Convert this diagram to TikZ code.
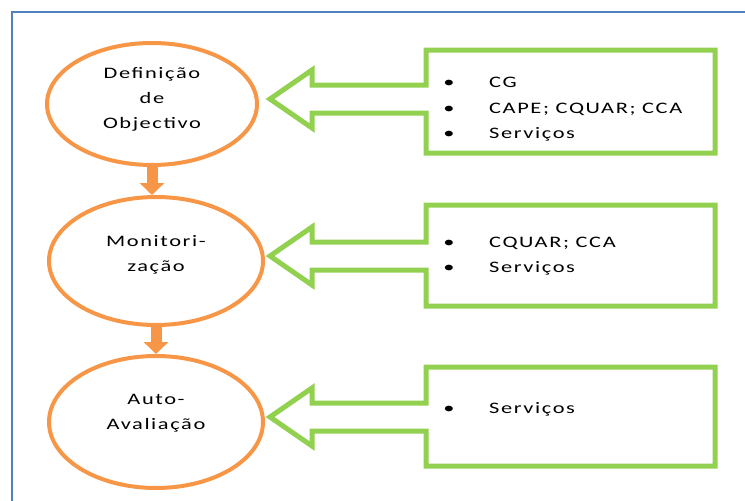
\documentclass[tikz,border=0pt]{standalone}
\usepackage{fontspec}
\setmainfont{Carlito}[FakeStretch=1.4,LetterSpace=10]
\usetikzlibrary{shapes.geometric,arrows.meta}
\definecolor{cam}{HTML}{F79646}
\definecolor{xanh}{HTML}{92D050}
\definecolor{khung}{HTML}{4F81BD}
\begin{document}
\begin{tikzpicture}[x=1pt,y=-1pt,line join=miter,font=\fontsize{16}{25}\selectfont,
	vong/.style={draw=cam,line width=4pt,ellipse,align=center,inner sep=0pt},
	hop/.style={draw=xanh,line width=5pt},
	muiten/.style={draw=cam,line width=11pt,-{Triangle[width=24pt,length=12pt]}},
	dong/.style={anchor=base west,inner sep=0pt}]
	\useasboundingbox (0,0) rectangle (745,501);
	% khung
	\draw[khung,line width=2pt] (12,501)--(12,12)--(745,12);
	% cac vong
	\node[vong,minimum width=210pt,minimum height=122pt,text depth=12pt] (def) at (152,104) {Definição\\de\\Objectivo};
	\node[vong,minimum width=214pt,minimum height=128pt,text depth=16pt] (mon) at (156,261) {Monitori-\\zação};
	\node[vong,minimum width=214pt,minimum height=132pt,text depth=21pt] (auto) at (156,422) {Auto-\\Avaliação};
	\draw[muiten] (def.south)--(def.south |- mon.north);
	\draw[muiten] (mon.south)--(mon.south |- auto.north);
	% cac hop
	\foreach \tren/\duoi/\giua in {50/153/99,205/306/256,367/466/417}
	\draw[hop] (426,\tren)--(715,\tren)--(715,\duoi)--(426,\duoi)--(426,\giua+14)
		--(312,\giua+14)--(312,\giua+29)--(270,\giua)--(312,\giua-29)
		--(312,\giua-14)--(426,\giua-14)--cycle;
	\foreach \ten/\y/\chu in {cg/87/CG,cape/113/{CAPE; CQUAR; CCA},sa/138/Serviços,
		cq/247/{CQUAR; CCA},sb/272/Serviços,sc/413/Serviços}{
		\node[dong] (\ten) at (489,\y) {\chu};
		\node[anchor=base,inner sep=0pt] (b\ten) at (449,\y) {•};
	}
\end{tikzpicture}
\end{document}
